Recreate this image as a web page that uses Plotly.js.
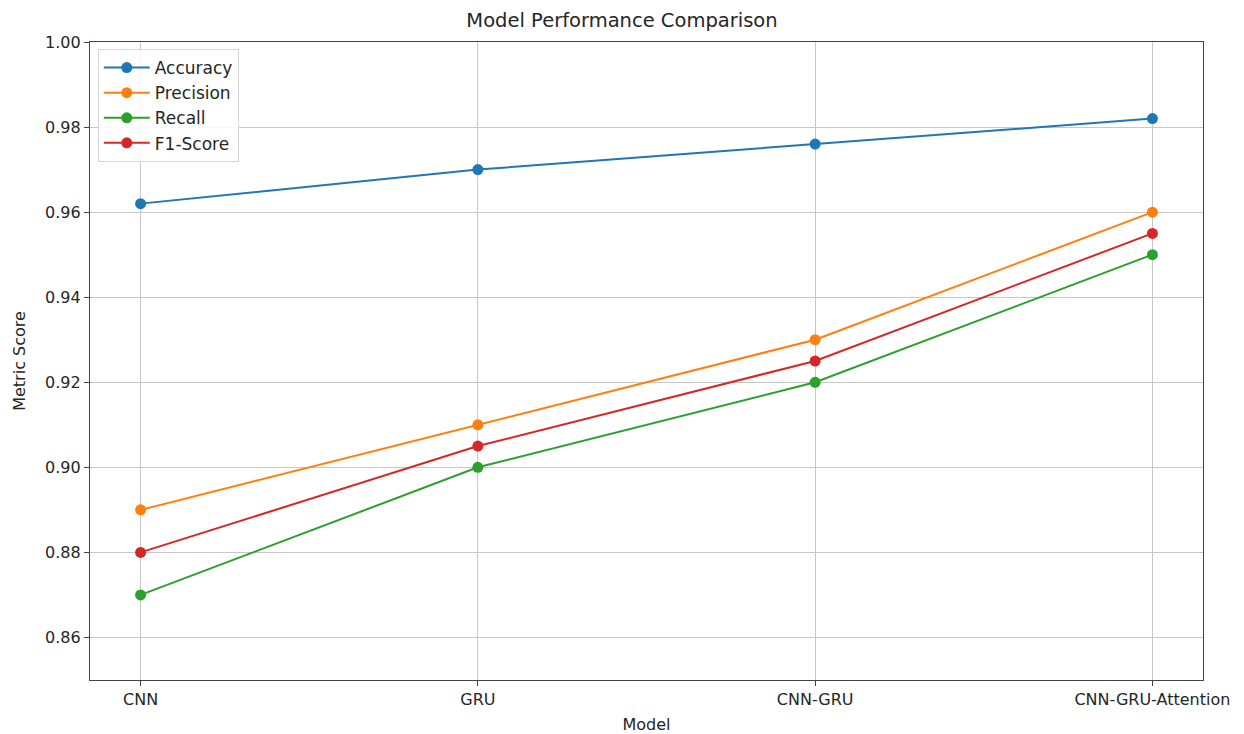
<!DOCTYPE html>
<html>
<head>
<meta charset="utf-8">
<script src="https://cdn.plot.ly/plotly-3.0.1.min.js"></script>
<style>html,body{margin:0;padding:0;background:#fff;}#chart{width:1244px;height:734px;}</style>
</head>
<body>
<div id="chart"></div>
<script>
const models = ["CNN", "GRU", "CNN-GRU", "CNN-GRU-Attention"];
const accuracy = [0.962, 0.970, 0.976, 0.982];
const precision = [0.890, 0.910, 0.930, 0.960];
const recall = [0.870, 0.900, 0.920, 0.950];
const f1score = [0.880, 0.905, 0.925, 0.955];
const yTicks = [0.86, 0.88, 0.90, 0.92, 0.94, 0.96, 0.98, 1.00];

const seriesDefs = [
  {name: "Accuracy", y: accuracy, color: "#1f77b4"},
  {name: "Precision", y: precision, color: "#ff7f0e"},
  {name: "Recall", y: recall, color: "#2ca02c"},
  {name: "F1-Score", y: f1score, color: "#d62728"}
];

const xIdx = models.map((_, i) => i);
const traces = seriesDefs.map(s => ({
  type: "scatter",
  mode: "lines+markers",
  name: s.name,
  x: xIdx,
  y: s.y,
  line: {color: s.color, width: 2},
  marker: {color: s.color, size: 11}
}));

const fam = "DejaVu Sans, sans-serif";
const txt = "#262626";
const layout = {
  width: 1244, height: 734,
  margin: {l: 90, r: 41, t: 42, b: 54},
  paper_bgcolor: "#fff", plot_bgcolor: "#fff",
  font: {family: fam, color: txt},
  title: {text: "Model Performance Comparison", font: {family: fam, size: 19.5, color: txt}, x: 0.5, xanchor: "center", y: 0.972, yanchor: "middle"},
  showlegend: true,
  legend: {x: 0.007, y: 0.989, xanchor: "left", yanchor: "top", bgcolor: "rgba(255,255,255,0.85)", bordercolor: "#d5d5d5", borderwidth: 1, font: {family: fam, size: 17, color: txt}, tracegroupgap: 0, itemwidth: 46},
  xaxis: {
    range: [-0.15, 3.15],
    tickmode: "array", tickvals: xIdx, ticktext: models,
    showgrid: true, gridcolor: "#c8c8c8", gridwidth: 1,
    showline: true, linecolor: "#444", linewidth: 1.3, mirror: true,
    ticks: "outside", ticklen: 5, tickcolor: "#444",
    tickfont: {family: fam, size: 16, color: txt},
    zeroline: false,
    title: {text: "Model", font: {family: fam, size: 16, color: txt}, standoff: 11}
  },
  yaxis: {
    range: [0.85, 1.00],
    tickmode: "array", tickvals: yTicks, ticktext: yTicks.map(v => v.toFixed(2)),
    showgrid: true, gridcolor: "#c8c8c8", gridwidth: 1,
    showline: true, linecolor: "#444", linewidth: 1.3, mirror: true,
    ticks: "outside", ticklen: 5, tickcolor: "#444",
    tickfont: {family: fam, size: 16, color: txt},
    zeroline: false,
    title: {text: "Metric Score", font: {family: fam, size: 16, color: txt}, standoff: 15}
  }
};

Plotly.newPlot("chart", traces, layout, {displayModeBar: false, responsive: false});
</script>
</body>
</html>
